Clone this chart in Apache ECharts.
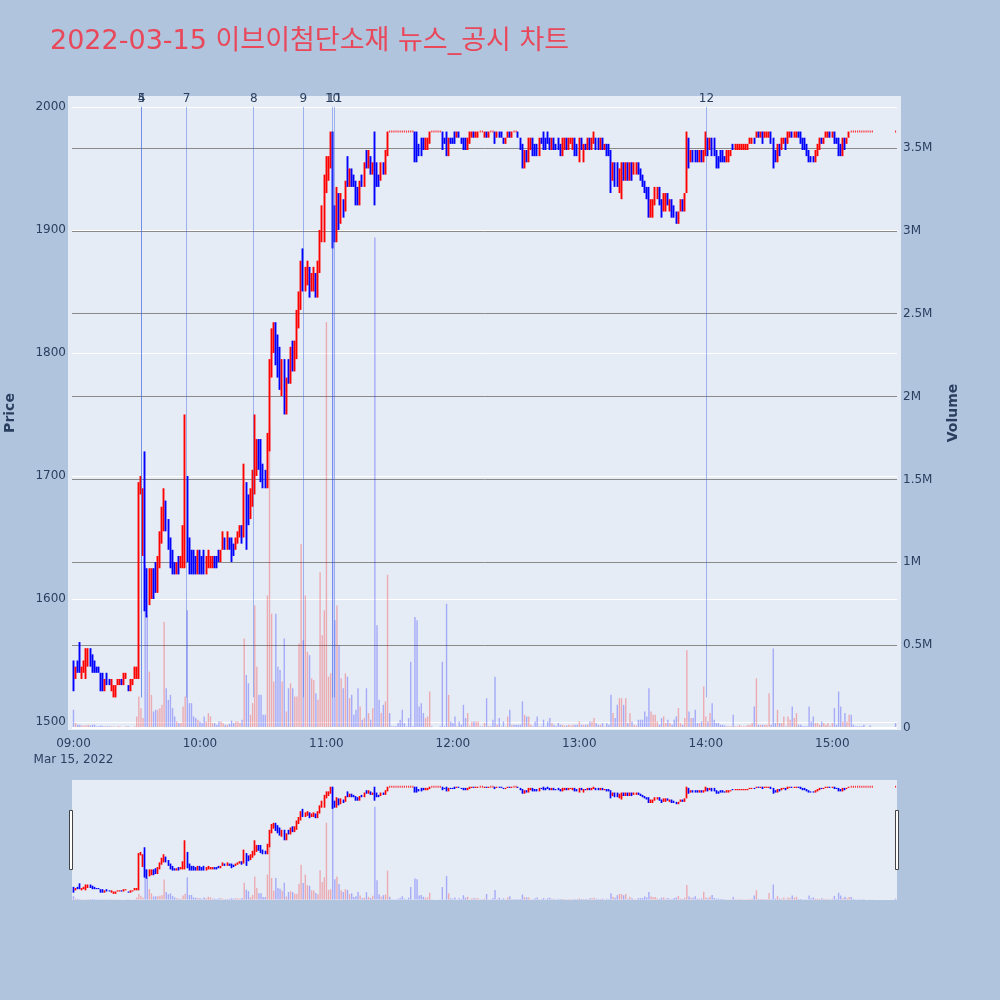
<!DOCTYPE html>
<html><head><meta charset="utf-8">
<script src="https://cdn.jsdelivr.net/npm/echarts@6/dist/echarts.min.js"></script>
<style>html,body{margin:0;padding:0;background:#B0C4DE;}#chart{width:1000px;height:1000px;}</style>
</head><body><div id="chart"></div>
<script>
// ---- data: one entry per traded minute (minutes after 09:00) ----
const opens = [
1550,1535,1550,1550,1540,1540,1535,1545,1560,1555, 1550,1545,1545,1540,1540,1525,1540,1535,1525,1520,
1525,1530,1530,1535,1530,1535,1530,1525,1530,1535, 1540,1535,1690,1640,1685,1615,1600,1605,1620,1625,
1610,1630,1650,1660,1680,1665,1650,1640,1630,1620, 1635,1625,1630,1640,1700,1650,1640,1640,1635,1625,
1640,1635,1640,1620,1625,1625,1630,1635,1635,1640, 1630,1640,1645,1640,1650,1650,1645,1640,1645,1650,
1660,1655,1690,1680,1670,1680,1690,1705,1730,1725, 1705,1700,1695,1725,1785,1805,1825,1810,1800,1770,
1790,1755,1790,1780,1805,1790,1800,1825,1840,1870, 1855,1860,1870,1850,1855,1865,1850,1870,1895,1900,
1935,1945,1955,1980,1915,1895,1930,1905,1925,1915, 1960,1935,1950,1945,1940,1935,1925,1940,1935,1960,
1950,1960,1945,1980,1950,1945,1940,1955,1945,1960, 1980,1980,1980,1980,1980,1980,1980,1980,1980,1980,
1980,1980,1980,1975,1965,1970,1970,1965,1965,1970, 1980,1980,1980,1980,1980,1980,1975,1975,1960,1975,
1975,1980,1975,1980,1975,1975,1970,1965,1970,1975, 1980,1975,1975,1980,1980,1975,1980,1975,1980,1980,
1980,1975,1980,1980,1975,1970,1975,1980,1975,1980, 1980,1980,1975,1970,1950,1965,1955,1965,1975,1970,
1970,1960,1975,1980,1975,1980,1975,1965,1975,1970, 1970,1970,1960,1970,1975,1965,1970,1965,1975,1970,
1965,1975,1960,1970,1965,1975,1965,1970,1975,1970, 1965,1975,1965,1970,1965,1965,1945,1955,1955,1935,
1935,1955,1945,1955,1940,1955,1945,1945,1955,1950, 1945,1940,1935,1935,1915,1910,1920,1925,1930,1925,
1915,1920,1930,1920,1925,1920,1915,1905,1915,1920, 1915,1930,1965,1960,1965,1960,1965,1955,1965,1955,
1965,1975,1965,1975,1970,1965,1960,1960,1965,1960, 1955,1960,1960,1970,1965,1965,1965,1965,1965,1965,
1965,1970,1970,1975,1975,1980,1975,1980,1975,1975, 1975,1980,1975,1960,1955,1965,1965,1970,1975,1970,
1975,1980,1975,1975,1980,1980,1975,1970,1970,1965, 1960,1960,1955,1960,1965,1975,1970,1975,1975,1980,
1975,1980,1975,1975,1965,1960,1975,1970,1975,1980, 1980,1980,1980,1980,1980,1980,1980,1980,1980,1980,
1980];
const closes = [
1525,1545,1540,1540,1545,1550,1560,1560,1545,1540, 1540,1540,1540,1525,1530,1535,1530,1530,1535,1530,
1530,1535,1535,1530,1535,1540,1525,1535,1535,1545, 1545,1690,1700,1685,1600,1595,1620,1625,1605,1610,
1635,1655,1670,1685,1660,1645,1630,1620,1620,1630, 1625,1635,1660,1700,1640,1625,1625,1620,1625,1640,
1625,1620,1625,1630,1640,1635,1635,1625,1630,1630, 1640,1650,1640,1655,1645,1635,1635,1650,1655,1660,
1650,1680,1660,1665,1685,1700,1710,1730,1710,1700, 1695,1695,1730,1790,1810,1825,1795,1785,1775,1790,
1755,1775,1780,1800,1790,1805,1830,1845,1870,1855, 1870,1870,1850,1865,1865,1850,1875,1900,1920,1940,
1960,1955,1980,1900,1895,1930,1905,1925,1915,1940, 1935,1950,1940,1935,1930,1920,1940,1935,1955,1950,
1965,1950,1955,1945,1935,1935,1950,1945,1960,1980, 1980,1980,1980,1980,1980,1980,1980,1980,1980,1980,
1980,1980,1960,1960,1960,1965,1965,1970,1975,1980, 1980,1980,1980,1980,1980,1970,1970,1960,1975,1970,
1970,1975,1980,1975,1970,1965,1965,1975,1980,1980, 1975,1980,1980,1980,1980,1980,1975,1980,1980,1980,
1975,1980,1975,1975,1970,1975,1980,1975,1980,1980, 1980,1975,1965,1950,1960,1955,1975,1975,1965,1960,
1960,1975,1970,1965,1970,1970,1965,1975,1965,1965, 1965,1960,1975,1975,1965,1975,1975,1975,1965,1960,
1975,1965,1970,1965,1975,1965,1975,1975,1970,1965, 1975,1965,1970,1965,1960,1945,1955,1940,1940,1950,
1950,1945,1955,1940,1950,1945,1955,1955,1945,1940, 1935,1930,1925,1915,1925,1920,1930,1935,1925,1910,
1930,1930,1925,1925,1915,1910,1905,1915,1920,1915, 1930,1975,1955,1965,1960,1955,1960,1965,1960,1965,
1975,1965,1975,1965,1960,1950,1950,1955,1955,1955, 1965,1965,1965,1965,1970,1970,1970,1970,1970,1970,
1970,1975,1975,1970,1980,1975,1980,1975,1980,1980, 1980,1970,1955,1955,1970,1960,1975,1975,1970,1980,
1980,1975,1980,1980,1975,1970,1965,1965,1960,1955, 1955,1955,1965,1970,1975,1970,1975,1980,1980,1975,
1980,1975,1970,1960,1960,1975,1970,1975,1980,1980, 1980,1980,1980,1980,1980,1980,1980,1980,1980,1980,
1980];
const lows = [
1525,1535,1540,1540,1535,1540,1535,1545,1545,1540, 1540,1540,1540,1525,1525,1525,1530,1530,1525,1520,
1520,1530,1530,1530,1530,1535,1525,1525,1530,1535, 1535,1535,1685,1635,1590,1585,1595,1600,1600,1605,
1605,1625,1645,1655,1655,1640,1625,1620,1620,1620, 1620,1625,1625,1625,1630,1620,1620,1620,1620,1620,
1620,1620,1620,1620,1625,1625,1625,1625,1625,1630, 1630,1640,1640,1640,1640,1630,1635,1640,1645,1650,
1645,1650,1640,1660,1665,1675,1685,1700,1705,1695, 1690,1690,1690,1720,1780,1800,1790,1780,1770,1765,
1750,1750,1775,1775,1785,1785,1795,1820,1835,1850, 1850,1855,1845,1850,1850,1845,1845,1865,1890,1890,
1930,1940,1950,1885,1890,1890,1900,1905,1910,1915, 1935,1935,1935,1935,1920,1920,1920,1935,1935,1950,
1950,1945,1945,1920,1935,1935,1940,1945,1945,1960, 1980,1980,1980,1980,1980,1980,1980,1980,1980,1980,
1980,1980,1955,1955,1960,1960,1965,1965,1965,1970, 1980,1980,1980,1980,1980,1965,1970,1960,1960,1970,
1970,1970,1975,1975,1970,1965,1965,1965,1970,1975, 1975,1975,1975,1980,1980,1975,1975,1975,1980,1980,
1970,1975,1975,1975,1970,1970,1975,1975,1975,1980, 1980,1975,1965,1950,1950,1955,1955,1965,1960,1960,
1960,1960,1970,1965,1965,1970,1965,1965,1965,1965, 1965,1960,1960,1965,1965,1965,1970,1965,1960,1960,
1955,1965,1955,1965,1965,1965,1965,1970,1965,1965, 1965,1965,1965,1960,1960,1930,1940,1935,1935,1930,
1925,1940,1940,1940,1940,1940,1945,1945,1945,1940, 1935,1930,1925,1910,1910,1910,1920,1925,1920,1910,
1915,1915,1920,1915,1910,1910,1905,1905,1915,1915, 1915,1930,1950,1955,1955,1955,1955,1955,1955,1955,
1960,1960,1965,1960,1960,1950,1950,1955,1955,1955, 1955,1955,1960,1965,1965,1965,1965,1965,1965,1965,
1965,1970,1970,1970,1975,1975,1975,1970,1975,1975, 1975,1970,1950,1955,1955,1960,1965,1970,1965,1970,
1975,1975,1975,1975,1975,1970,1965,1965,1960,1955, 1955,1955,1955,1960,1965,1970,1970,1975,1975,1975,
1975,1970,1970,1960,1960,1960,1965,1970,1975,1980, 1980,1980,1980,1980,1980,1980,1980,1980,1980,1980,
1980];
const highs = [
1550,1545,1550,1565,1545,1550,1560,1560,1560,1555, 1550,1545,1545,1540,1540,1535,1540,1535,1535,1530,
1530,1535,1535,1535,1540,1540,1530,1535,1535,1545, 1545,1695,1700,1690,1720,1625,1625,1625,1625,1630,
1635,1655,1675,1690,1680,1665,1650,1640,1630,1630, 1635,1635,1660,1750,1700,1650,1640,1640,1635,1640,
1640,1635,1640,1635,1640,1635,1635,1635,1635,1640, 1640,1655,1650,1655,1650,1650,1645,1650,1655,1660,
1660,1710,1695,1685,1690,1705,1750,1730,1730,1730, 1710,1705,1735,1795,1820,1825,1825,1815,1805,1795,
1795,1780,1795,1805,1810,1810,1835,1850,1875,1885, 1870,1875,1870,1865,1870,1865,1875,1900,1920,1945,
1960,1960,1980,1980,1920,1935,1930,1930,1925,1940, 1960,1950,1950,1945,1940,1935,1940,1945,1955,1965,
1965,1960,1955,1980,1955,1945,1955,1955,1965,1980, 1980,1980,1980,1980,1980,1980,1980,1980,1980,1980,
1980,1980,1980,1980,1970,1975,1975,1975,1975,1980, 1980,1980,1980,1980,1980,1980,1975,1980,1975,1975,
1975,1980,1980,1980,1975,1975,1975,1975,1980,1980, 1980,1980,1980,1980,1980,1980,1980,1980,1980,1980,
1980,1980,1980,1980,1975,1975,1980,1980,1980,1980, 1980,1980,1975,1970,1965,1965,1975,1975,1975,1970,
1970,1975,1975,1980,1975,1980,1975,1975,1975,1970, 1975,1970,1975,1975,1975,1975,1975,1975,1975,1970,
1975,1975,1970,1970,1975,1975,1975,1980,1975,1975, 1975,1975,1970,1970,1970,1965,1955,1955,1955,1950,
1955,1955,1955,1955,1955,1955,1955,1955,1955,1950, 1945,1940,1935,1935,1925,1925,1935,1935,1935,1925,
1930,1930,1930,1925,1925,1920,1915,1915,1925,1925, 1930,1980,1975,1965,1965,1965,1965,1965,1965,1965,
1980,1975,1975,1975,1975,1965,1960,1965,1965,1960, 1965,1965,1965,1970,1970,1970,1970,1970,1970,1970,
1970,1975,1975,1975,1980,1980,1980,1980,1980,1980, 1980,1980,1975,1965,1970,1970,1975,1975,1975,1980,
1980,1980,1980,1980,1980,1980,1975,1975,1970,1965, 1960,1960,1965,1970,1975,1975,1975,1980,1980,1980,
1980,1980,1975,1975,1970,1975,1975,1975,1980,1980, 1980,1980,1980,1980,1980,1980,1980,1980,1980,1980,
1980];
// volume in thousands of shares
const volumesK = [
110,30,20,20,15,15,15,20,15,20, 20,10,10,15,10,10,10,10,10,10,
5,10,10,5,5,10,10,5,5,10, 70,190,120,60,980,680,340,200,100,110,
110,120,140,640,240,170,200,120,70,40, 30,30,130,190,710,150,150,70,60,50,
40,30,70,40,90,70,30,30,20,40, 40,30,20,20,25,45,30,40,40,30,
50,540,320,270,80,150,740,370,200,200, 80,80,800,1800,690,280,690,370,350,280,
540,100,240,270,240,190,190,510,1110,530, 800,460,440,300,290,210,170,940,560,710,
2450,310,330,3600,650,740,500,300,240,330, 310,180,200,80,110,240,130,50,60,240,
90,50,120,2960,620,170,90,140,160,925, 90,10,10,10,30,50,110,30,10,60,
400,10,670,650,130,150,90,60,70,220, 10,5,5,5,10,400,10,750,200,40,
30,70,10,40,20,140,60,90,10,40, 40,40,40,10,10,30,180,10,10,50,
310,20,60,10,40,10,70,110,20,20, 20,20,20,160,80,70,70,20,10,40,
70,10,10,50,10,40,60,30,20,10, 30,20,20,15,15,20,15,20,20,20,
40,20,20,20,20,40,40,60,30,20, 20,30,10,30,20,200,90,60,140,180,
180,140,180,30,90,40,20,15,50,50, 50,100,70,240,100,80,80,40,20,60,
70,30,50,30,20,50,70,120,30,20, 60,470,100,60,60,110,30,30,40,250,
70,40,90,150,50,30,30,20,20,15, 10,10,10,80,10,10,20,10,10,10,
20,20,30,130,300,20,20,20,20,20, 210,20,480,30,110,30,30,70,10,70,
50,130,60,90,20,20,10,10,10,130, 40,70,30,30,20,40,30,20,30,10,
30,120,20,220,130,40,90,40,80,80, 20,10,10,10,10,20,5,5,15,5,
30];
// minutes after 09:00: continuous session to 15:19, then the 15:30 closing print
const sessionMinutes = opens.map((_, i) => i < 380 ? i : 390);

const eventLabels = ['4','5','7','8','9','10','11','12'];
const eventMinutes = [32.3, 32.3, 53.6, 85.5, 109.1, 122.9, 123.9, 300.3];
const eventPriceSpan = [1520, 2000];

const xTickMinutes = [0, 60, 120, 180, 240, 300, 360];
const xTickLabels = ['09:00\nMar 15, 2022', '10:00', '11:00', '12:00', '13:00', '14:00', '15:00'];
const priceTicks = [1500, 1600, 1700, 1800, 1900, 2000];
const priceTickLabels = ['1500', '1600', '1700', '1800', '1900', '2000'];
const volumeTicksK = [0, 500, 1000, 1500, 2000, 2500, 3000, 3500];
const volumeTickLabels = ['0', '0.5M', '1M', '1.5M', '2M', '2.5M', '3M', '3.5M'];

// ---- chart ----
const FONT = 'DejaVu Sans, Noto Sans CJK KR, sans-serif';
const TXT = '#2a3f5f';
const UP = '#ff0000', DOWN = '#0000ff';
const UPV = 'rgba(255,0,0,0.28)', DOWNV = 'rgba(0,0,255,0.28)';
const X_RANGE = [-0.7, 390.7];
const PRICE_RANGE = [1493.5, 2008.9];
const VOL_RANGE = [-12, 3814];

const candleData = sessionMinutes.map((m, i) => [m, opens[i], closes[i], lows[i], highs[i]]);
// minutes where open = high = low = close (flat prints), drawn as short dashes
const flatData = sessionMinutes
  .map((m, i) => [m, closes[i], opens[i] === closes[i] && highs[i] === lows[i]])
  .filter(d => d[2]).map(d => [d[0], d[1]]);
const volData = sessionMinutes.map((m, i) => ({
  value: [m, volumesK[i]],
  itemStyle: { color: closes[i] > opens[i] ? UPV : DOWNV }
}));

const chart = echarts.init(document.getElementById('chart'), null, { renderer: 'canvas' });
const candleStyle = { color: UP, color0: DOWN, borderColor: UP, borderColor0: DOWN, borderColorDoji: UP, borderWidth: 1.9 };

chart.setOption({
  animation: false,
  backgroundColor: '#B0C4DE',
  textStyle: { fontFamily: FONT },
  title: {
    text: '2022-03-15 이브이첨단소재 뉴스_공시 차트',
    left: 50, top: 28, padding: 0,
    textStyle: { color: '#E8485A', fontSize: 27, fontWeight: 'normal', fontFamily: FONT }
  },
  graphic: [
    { type: 'rect', z: -100, silent: true, shape: { x: 68, y: 96, width: 833, height: 634 }, style: { fill: '#E5ECF6' } },
    { type: 'rect', z: 100, silent: true, shape: { x: 69.5, y: 810.5, width: 3, height: 59 }, style: { fill: '#fff', stroke: '#444', lineWidth: 1 } },
    { type: 'rect', z: 100, silent: true, shape: { x: 895.5, y: 810.5, width: 3, height: 59 }, style: { fill: '#fff', stroke: '#444', lineWidth: 1 } }
  ],
  grid: [
    { left: 72, top: 96, width: 825, height: 634, containLabel: false, outerBoundsMode: 'none' },
    { left: 72, top: 780, width: 825, height: 120, show: true, backgroundColor: '#E5ECF6', borderWidth: 0, containLabel: false, outerBoundsMode: 'none' }
  ],
  xAxis: [
    {
      type: 'value', gridIndex: 0, min: X_RANGE[0], max: X_RANGE[1],
      axisLine: { show: false }, splitLine: { show: false },
      axisTick: { show: false, customValues: xTickMinutes },
      axisLabel: {
        customValues: xTickMinutes, margin: 6, color: TXT, fontSize: 12, fontFamily: FONT, lineHeight: 16,
        formatter: v => xTickLabels[xTickMinutes.indexOf(v)]
      }
    },
    { type: 'value', gridIndex: 1, min: X_RANGE[0], max: X_RANGE[1], show: false }
  ],
  yAxis: [
    {
      type: 'value', gridIndex: 0, position: 'left', min: PRICE_RANGE[0], max: PRICE_RANGE[1],
      name: 'Price', nameLocation: 'middle', nameGap: 55, nameRotate: 90,
      nameTextStyle: { color: TXT, fontSize: 14, fontWeight: 'bold', fontFamily: FONT },
      axisLine: { show: false },
      axisTick: { show: false, customValues: priceTicks },
      axisLabel: {
        customValues: priceTicks, margin: 6, color: TXT, fontSize: 12, fontFamily: FONT,
        formatter: v => priceTickLabels[priceTicks.indexOf(v)]
      },
      splitLine: { show: true, lineStyle: { color: '#ffffff', width: 1 } }
    },
    {
      type: 'value', gridIndex: 0, position: 'right', min: VOL_RANGE[0], max: VOL_RANGE[1],
      name: 'Volume', nameLocation: 'middle', nameGap: 49, nameRotate: 90,
      nameTextStyle: { color: TXT, fontSize: 14, fontWeight: 'bold', fontFamily: FONT },
      axisLine: { show: false },
      axisTick: { show: false, customValues: volumeTicksK },
      axisLabel: {
        customValues: volumeTicksK, margin: 6, color: TXT, fontSize: 12, fontFamily: FONT,
        formatter: v => volumeTickLabels[volumeTicksK.indexOf(v)]
      },
      splitLine: { show: true, lineStyle: { color: '#8a8a8a', width: 1 } }
    },
    { type: 'value', gridIndex: 1, min: PRICE_RANGE[0], max: PRICE_RANGE[1], show: false },
    { type: 'value', gridIndex: 1, min: VOL_RANGE[0], max: VOL_RANGE[1], show: false }
  ],
  series: [
    {
      type: 'bar', name: 'Volume', xAxisIndex: 0, yAxisIndex: 1, barWidth: 1.4, z: 2,
      data: volData, silent: true,
      markLine: {
        silent: true, symbol: ['none', 'none'], label: { show: false },
        lineStyle: { color: '#ffffff', width: 2, type: 'solid' },
        data: [{ yAxis: 0 }]
      }
    },
    {
      type: 'candlestick', name: 'Price', xAxisIndex: 0, yAxisIndex: 0, z: 3,
      data: candleData, encode: { x: 0, y: [1, 2, 3, 4] },
      barWidth: 1.2, itemStyle: candleStyle, silent: true,
      markLine: {
        silent: true, symbol: ['none', 'none'], z: 10,
        lineStyle: { color: 'rgba(65,105,225,0.45)', width: 1, type: 'solid' },
        label: { show: true, position: 'end', distance: 2, formatter: p => p.name, color: TXT, fontSize: 12, fontFamily: FONT },
        data: eventMinutes.map((m, i) => [
          { coord: [m, eventPriceSpan[0]], name: eventLabels[i] },
          { coord: [m, eventPriceSpan[1]] }
        ])
      }
    },
    {
      type: 'scatter', xAxisIndex: 0, yAxisIndex: 0, z: 4, silent: true,
      data: flatData, symbol: 'rect', symbolSize: [1.1, 2], itemStyle: { color: UP }
    },
    {
      type: 'bar', xAxisIndex: 1, yAxisIndex: 3, barWidth: 1.4, z: 2, data: volData, silent: true
    },
    {
      type: 'candlestick', xAxisIndex: 1, yAxisIndex: 2, z: 3,
      data: candleData, encode: { x: 0, y: [1, 2, 3, 4] },
      barWidth: 1.1, itemStyle: Object.assign({}, candleStyle, { borderWidth: 1.7 }), silent: true
    },
    {
      type: 'scatter', xAxisIndex: 1, yAxisIndex: 2, z: 4, silent: true,
      data: flatData, symbol: 'rect', symbolSize: [1.1, 1.8], itemStyle: { color: UP }
    }
  ]
});
</script>
</body></html>
